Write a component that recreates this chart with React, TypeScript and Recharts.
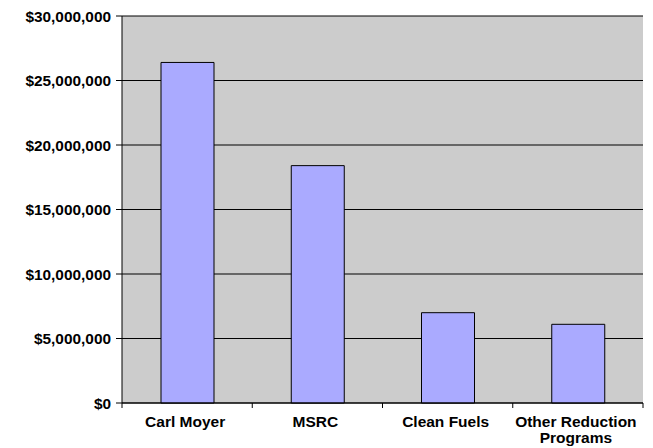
import { BarChart, Bar, XAxis, YAxis, CartesianGrid } from "recharts";

const programs = ["Carl Moyer", "MSRC", "Clean Fuels", "Other Reduction Programs"];
const funding = [26400000, 18400000, 7000000, 6100000];
const yTicks = [0, 5000000, 10000000, 15000000, 20000000, 25000000, 30000000];

const data = programs.map((name, i) => ({ name, funding: funding[i] }));

const money = (v: number) => `$${v.toLocaleString("en-US")}`;
const FONT = "'Liberation Sans', Arial, sans-serif";

// wrap long category names onto two lines, like the spreadsheet does
function wrapLabel(text: string, max = 16) {
  const lines: string[] = [];
  let cur = "";
  for (const w of text.split(" ")) {
    const next = cur ? `${cur} ${w}` : w;
    if (next.length > max && cur) {
      lines.push(cur);
      cur = w;
    } else cur = next;
  }
  if (cur) lines.push(cur);
  return lines;
}

function CategoryTick(props: any) {
  const { x, y, payload, index, visibleTicksCount } = props;
  const half = payload.offset || 0;
  const axisY = y - 7;
  const lines = wrapLabel(String(payload.value));
  const last = index === (visibleTicksCount ?? programs.length) - 1;
  const cx = x - 2;
  return (
    <g>
      <line x1={x - half} x2={x - half} y1={axisY} y2={axisY + 5} stroke="#000" />
      {last && <line x1={x + half} x2={x + half} y1={axisY} y2={axisY + 5} stroke="#000" />}
      <text x={cx} y={axisY + 24} textAnchor="middle" fontFamily={FONT} fontWeight="bold" fontSize={15.5} fill="#000">
        {lines.map((l, i) => (
          <tspan key={i} x={cx} dy={i === 0 ? 0 : 16}>
            {l}
          </tspan>
        ))}
      </text>
    </g>
  );
}

function MoneyTick(props: any) {
  const { x, y, payload } = props;
  return (
    <text x={x} y={y} dy="0.36em" textAnchor="end" fontFamily={FONT} fontWeight="bold" fontSize={15.4} fill="#000">
      {money(payload.value)}
    </text>
  );
}

export default function App() {
  return (
    <div style={{ position: "fixed", left: 0, top: 0, background: "#fff" }}>
      <BarChart width={653} height={448} data={data} margin={{ top: 16, right: 10, bottom: 0, left: 0 }}>
        <CartesianGrid fill="#CCCCCC" stroke="#000" vertical={false} />
        <XAxis
          dataKey="name"
          height={45}
          tickSize={5}
          tickMargin={2}
          tickLine={false}
          axisLine={{ stroke: "#000" }}
          tick={<CategoryTick />}
          interval={0}
        />
        <YAxis
          width={122}
          domain={[0, 30000000]}
          ticks={yTicks}
          tickSize={6}
          tickMargin={5}
          axisLine={{ stroke: "#000" }}
          tickLine={{ stroke: "#000" }}
          tick={<MoneyTick />}
          interval={0}
        />
        <YAxis
          yAxisId="border"
          orientation="right"
          width={0}
          domain={[0, 30000000]}
          tick={false}
          tickLine={false}
          axisLine={{ stroke: "#808080" }}
        />
        <Bar dataKey="funding" fill="#AAAAFF" stroke="#000" strokeWidth={1} barSize={53} isAnimationActive={false} />
      </BarChart>
    </div>
  );
}
